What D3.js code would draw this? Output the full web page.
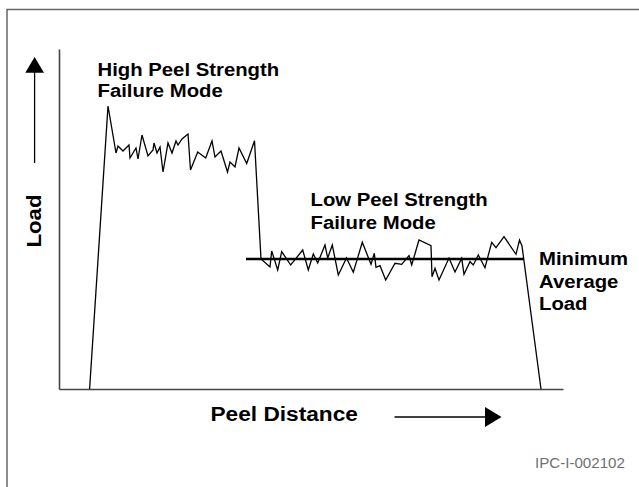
<!DOCTYPE html>
<html>
<head>
<meta charset="utf-8">
<script src="https://cdn.jsdelivr.net/npm/d3@7"></script>
<style>
  body { margin: 0; background: #fff; }
  svg { display: block; font-family: "Liberation Sans", Arial, Helvetica, sans-serif; }
</style>
</head>
<body>
<script>
// peel test trace, arbitrary units (distance along x, load along y)
var peelDistance = [30.6, 49, 57, 59, 64, 70, 71, 77, 79, 83, 89, 94, 95, 98, 101, 104, 109, 113, 117, 119,
  123, 129, 131.5, 138.7, 146.7, 153, 156, 162, 168.5, 171, 176, 180, 187.7, 195.5, 202, 211, 212.7, 218.7,
  222.7, 231.7, 243.7, 249.3, 254.3, 258.7, 266, 268.7, 273.3, 279.3, 287.5, 294.3, 303.3, 312, 315.3, 317,
  321, 326.7, 336, 342.7, 350, 352.7, 360, 372, 373, 376, 380, 390, 396, 402.7, 405, 411, 414.3, 419.3, 426,
  432.7, 437, 445, 457, 460.5, 463, 482];
var load = [0, 283, 236, 243, 238, 244, 231, 241, 230, 254, 233, 239, 246, 236, 242, 217, 246, 236, 248, 244,
  250, 255, 219, 237, 231, 248, 232, 238, 217, 227, 222, 241, 225.5, 248.3, 130, 122, 138, 119,
  137.3, 124, 139, 119, 135, 126, 144, 131, 144, 114, 131, 116.7, 146.7, 124.7, 135.7, 121.7,
  123.3, 109, 125.7, 124.7, 133.3, 124, 149, 143.3, 112.3, 120.7, 109, 131, 117, 130.7, 114.7, 127.3, 124, 134, 121.3,
  146.7, 141.3, 152.3, 134.7, 149, 143, 0];

// minimum average load line
var minAvgLoad = 130;
var minAvgRange = [187, 465];

var labelsHigh = ["High Peel Strength", "Failure Mode"];
var labelsLow = ["Low Peel Strength", "Failure Mode"];
var labelsMin = ["Minimum", "Average", "Load"];

var width = 639, height = 487;

var svg = d3.select("body").append("svg")
    .attr("width", width)
    .attr("height", height);

// outer frame (right and bottom edges fall off the picture)
svg.append("rect")
    .attr("x", 7).attr("y", 9.5)
    .attr("width", 650).attr("height", 500)
    .style("fill", "none")
    .style("stroke", "#666")
    .style("stroke-width", 1.5);

var x = d3.scaleLinear().domain([0, 504]).range([59, 563]);
var y = d3.scaleLinear().domain([0, 340]).range([389, 49]);

// axes, no ticks
svg.append("g")
    .attr("transform", "translate(0," + y(0) + ")")
    .call(d3.axisBottom(x).tickValues([]).tickSizeOuter(0));
svg.append("g")
    .attr("transform", "translate(" + x(0) + ",0)")
    .call(d3.axisLeft(y).tickValues([]).tickSizeOuter(0));
svg.selectAll(".domain")
    .style("stroke", "#444")
    .style("stroke-width", 1.6);

// trace
var pts = peelDistance.map(function(d, i) { return [d, load[i]]; });
var line = d3.line()
    .x(function(d) { return x(d[0]); })
    .y(function(d) { return y(d[1]); });

svg.append("path")
    .datum(pts)
    .attr("d", line)
    .style("fill", "none")
    .style("stroke", "#000")
    .style("stroke-width", 1.3)
    .style("stroke-linejoin", "miter");

svg.append("line")
    .attr("x1", x(minAvgRange[0])).attr("x2", x(minAvgRange[1]))
    .attr("y1", y(minAvgLoad)).attr("y2", y(minAvgLoad))
    .style("stroke", "#000")
    .style("stroke-width", 2.6);

// text helper: bold, a bit wide like the original
function label(tx, ty, str, size, sx) {
  return svg.append("text")
      .attr("transform", "translate(" + tx + "," + ty + ") scale(" + sx + ",1)")
      .style("font-size", size + "px")
      .style("font-weight", "bold")
      .style("fill", "#000")
      .text(str);
}

labelsHigh.forEach(function(s, i) { label(97.5, 76 + i * 21, s, 19, 1.07); });
labelsLow.forEach(function(s, i) { label(310.5, 206 + i * 22.5, s, 19, 1.07); });
labelsMin.forEach(function(s, i) { label(539, 265 + i * 22.5, s, 19, 1.07); });

label(210.5, 421, "Peel Distance", 21, 1.08);

// rotated y label
svg.append("text")
    .attr("transform", "translate(41,221) rotate(-90) scale(1.06,1)")
    .attr("text-anchor", "middle")
    .style("font-size", "21px")
    .style("font-weight", "bold")
    .text("Load");

// arrows
svg.append("line")
    .attr("x1", 34.6).attr("x2", 34.6)
    .attr("y1", 72).attr("y2", 163)
    .style("stroke", "#000").style("stroke-width", 1.3);
svg.append("path")
    .attr("d", "M34.6,57 L25.3,72.7 L44,72.7 Z")
    .style("fill", "#000");

svg.append("line")
    .attr("x1", 394.5).attr("x2", 486)
    .attr("y1", 417).attr("y2", 417)
    .style("stroke", "#000").style("stroke-width", 1.3);
svg.append("path")
    .attr("d", "M501.5,417 L485,407 L485,427 Z")
    .style("fill", "#000");

// figure id
svg.append("text")
    .attr("transform", "translate(535,468) scale(1.08,1)")
    .style("font-size", "14px")
    .style("fill", "#707070")
    .text("IPC-I-002102");
</script>
</body>
</html>
